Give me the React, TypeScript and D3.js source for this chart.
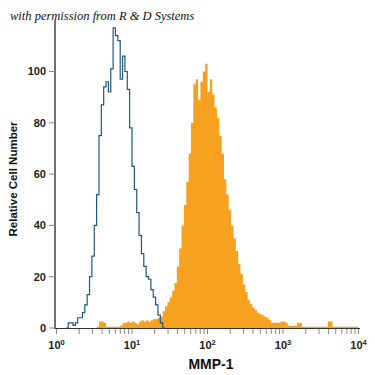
import React from "react";
import * as d3 from "d3";

const BINS_PER_DECADE = 32;
const xTickExponents = [0, 1, 2, 3, 4];
const yTicks = [0, 20, 40, 60, 80, 100];

// isotype control histogram (blue outline), starting at bin index
const isotypeStart = 4;
const isotypeCounts = [0, 2, 2, 1, 2, 4, 4, 6, 9, 13, 20, 28, 40, 52, 75, 87, 94, 96, 92, 101, 117, 114, 112, 97, 106, 100, 93, 78, 63, 54, 45, 36, 29, 24, 20, 19, 15, 12, 9, 5, 2, 0];

// MMP-1 stained histogram (orange filled), starting at bin index
const mmp1Start = 17;
const mmp1Counts = [
  0.5, 2.5, 2.5, 2, 0.5, 0.5, 0.5, 0.5, 0.5, 0.5,
  1, 2, 2, 2.5, 2, 2.5, 2, 1.5, 2.5, 3,
  2.5, 3, 2.5, 3, 3.5, 3.5, 4, 4.5, 6.5, 8.5,
  10, 12, 14.5, 17.5, 24, 31, 40, 48, 57, 68,
  80, 95, 97, 89, 96, 100, 103, 92, 97, 91,
  86, 82, 75, 68, 58, 52, 46, 40, 35, 30,
  25, 21, 17, 14, 11, 9.5, 8, 7, 5.8, 5.5,
  5, 4.5, 4, 3, 2, 2, 2, 2, 2.5, 2.5,
  2, 1, 0.8, 0.8, 1, 2, 2, 0.5, 0.5, 0.5,
  0.5, 0.5, 0.5, 0.5, 0.5, 0.5, 0.5, 0.5, 2.5, 2.5,
  0.5, 0.5, 0.5, 0.5, 0.5, 0.5, 0.5, 0.5, 0.5, 0.5, 0.5,
];

const toPoints = (start: number, counts: number[]) => {
  const pts: [number, number][] = counts.map((c, k) => [Math.pow(10, (start + k) / BINS_PER_DECADE), c]);
  pts.push([Math.pow(10, (start + counts.length) / BINS_PER_DECADE), counts[counts.length - 1]]);
  return pts;
};

export default function App() {
  const x = d3.scaleLog().domain([1, 10000]).range([56.5, 358.5]);
  const y = d3.scaleLinear().domain([0, 120]).range([328, 20.2]);

  const area = d3
    .area<[number, number]>()
    .x((d) => x(d[0]))
    .y0(y(0))
    .y1((d) => y(d[1]))
    .curve(d3.curveStepAfter);
  const line = d3
    .line<[number, number]>()
    .x((d) => x(d[0]))
    .y((d) => y(d[1]))
    .curve(d3.curveStepAfter);

  const minorTicks: number[] = [];
  for (let e = 0; e < 4; e++) for (let m = 1; m <= 9; m++) minorTicks.push(m * Math.pow(10, e));
  minorTicks.push(10000);

  const font = "'Liberation Sans', Arial, sans-serif";

  return (
    <svg width={375} height={375} style={{ position: "absolute", left: 0, top: 0, background: "#fff" }}>
      <text x={10} y={20} fontFamily="'Liberation Serif', serif" fontStyle="italic" fontSize={12.5} fill="#111">
        with permission from R &amp; D Systems
      </text>

      <path d={area(toPoints(mmp1Start, mmp1Counts)) || ""} fill="#f6a11f" />
      <path d={line(toPoints(isotypeStart, isotypeCounts)) || ""} fill="none" stroke="#21577f" strokeWidth={1.2} />

      {/* y axis */}
      <line x1={55} x2={55} y1={20} y2={329} stroke="#111" strokeWidth={1.2} />
      {yTicks.map((t) => (
        <g key={t}>
          <line x1={49} x2={55} y1={y(t)} y2={y(t)} stroke="#888" />
          <text x={46} y={y(t)} dy="0.35em" textAnchor="end" fontFamily={font} fontWeight="bold" fontSize={11} fill="#222">
            {t}
          </text>
        </g>
      ))}

      {/* x axis */}
      <line x1={55} x2={360} y1={328.5} y2={328.5} stroke="#3a3530" strokeWidth={1.2} />
      {minorTicks.map((t, i) => (
        <line key={i} x1={x(t)} x2={x(t)} y1={329} y2={334} stroke="#888" />
      ))}
      {xTickExponents.map((e) => (
        <text key={e} x={x(Math.pow(10, e))} y={349} textAnchor="middle" fontFamily={font} fontWeight="bold" fontSize={11} fill="#222">
          10
          <tspan dy={-4} fontSize={7.5}>{e}</tspan>
        </text>
      ))}
      <text x={211} y={369} textAnchor="middle" fontFamily={font} fontWeight="bold" fontSize={14} fill="#111">
        MMP-1
      </text>
      <text
        transform={`translate(17,179) rotate(-90)`}
        textAnchor="middle"
        fontFamily={font}
        fontWeight="bold"
        fontSize={11.5}
        fill="#111"
      >
        Relative Cell Number
      </text>
    </svg>
  );
}
